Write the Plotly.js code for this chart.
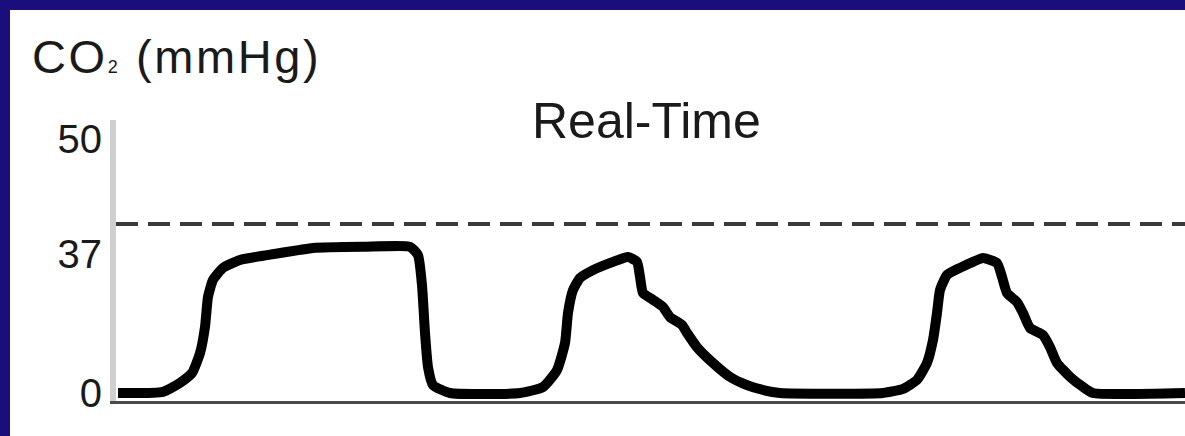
<!DOCTYPE html>
<html>
<head>
<meta charset="utf-8">
<script src="https://cdn.plot.ly/plotly-3.0.1.min.js"></script>
<style>
  html, body { margin: 0; padding: 0; width: 1185px; height: 436px; overflow: hidden; background: #1a0e7c; }
  #chart { position: absolute; left: 10px; top: 10px; width: 1175px; height: 426px; background: #ffffff; }
</style>
</head>
<body>
<div id="chart"></div>
<script>
// Time (s) and CO2 (mmHg)
const timeSec = [
  0.05, 0.50, 0.67, 0.79, 0.87, 0.92, 0.95, 1.00, 1.10, 1.27, 1.54, 1.87, 2.00, 2.50, 2.97, 3.05, 3.09, 3.12, 3.15, 3.20, 3.37,
  4.07, 4.30, 4.44, 4.52, 4.55, 4.60, 4.67, 4.80, 5.00, 5.15, 5.24, 5.27, 5.30, 5.40, 5.50, 5.57, 5.69, 5.74, 5.84, 6.00, 6.17, 6.34, 6.50, 6.67,
  7.70, 7.90, 8.04, 8.14, 8.20, 8.24, 8.27, 8.34, 8.47, 8.60, 8.70, 8.84, 8.89, 8.94, 9.04, 9.10, 9.17, 9.30, 9.37, 9.44, 9.57, 9.70, 9.80, 10.72
];
const co2 = [
  0, 0.3, 2.7, 5.3, 10.6, 17.6, 25.6, 30.1, 33.3, 35.4, 36.7, 38.1, 38.6, 38.9, 38.9, 36.7, 28.7, 16.0, 6.9, 2.1, 0,
  0, 1.6, 6.1, 13.3, 21.3, 27.4, 30.6, 32.7, 34.9, 36.2, 34.9, 30.9, 26.6, 24.8, 22.9, 20.2, 18.1, 16.0, 12.2, 8.0, 4.3, 2.1, 0.8, 0,
  0, 1.1, 3.5, 8.0, 14.1, 21.3, 27.4, 31.4, 33.3, 34.9, 35.9, 34.6, 30.9, 26.6, 24.2, 21.3, 17.3, 15.4, 12.2, 8.0, 4.3, 1.6, 0, 0
];
const thresholdCO2 = 45;
const yTickVals = [0, 37, 67.6];
const yTickText = ["0", "37", "50"];
const chartTitle = "Real-Time";
const yLabel = "<span style=\"letter-spacing:2.6px\">CO<span style=\"font-size:18px\">2</span> (mmHg)</span>";

const FONT = "Liberation Sans, Arial, Helvetica, sans-serif";

const trace = {
  x: timeSec, y: co2, type: "scatter", mode: "lines",
  line: { color: "#000000", width: 10, shape: "spline", smoothing: 0.5 },
  hoverinfo: "skip"
};

const layout = {
  width: 1175, height: 426,
  margin: { l: 106, r: 0, t: 110, b: 35, pad: 0 },
  paper_bgcolor: "#ffffff", plot_bgcolor: "#ffffff",
  showlegend: false,
  xaxis: {
    range: [0.03, 10.72], showgrid: false, zeroline: false, showticklabels: false,
    showline: true, linecolor: "#4a4a4a", linewidth: 3, ticks: ""
  },
  yaxis: {
    range: [-2.13, 72.66], showgrid: false, zeroline: false,
    showline: true, linecolor: "#cfcfcf", linewidth: 6, ticks: "",
    tickmode: "array", tickvals: yTickVals, ticktext: yTickText,
    tickfont: { family: FONT, size: 40, color: "#1a1a1a" }
  },
  shapes: [{
    type: "line", xref: "paper", yref: "y", x0: 0, x1: 1, y0: thresholdCO2, y1: thresholdCO2,
    line: { color: "#3a3a3a", width: 4, dash: "22px,10px" }
  }],
  annotations: [
    { text: yLabel, xref: "paper", yref: "paper", x: -0.0805, y: 1.226, xanchor: "left", yanchor: "middle",
      showarrow: false, font: { family: FONT, size: 47, color: "#1a1a1a" } },
    { text: chartTitle, xref: "paper", yref: "paper", x: 0.4967, y: 0.995, xanchor: "center", yanchor: "middle",
      showarrow: false, font: { family: FONT, size: 50, color: "#1a1a1a" } }
  ]
};

Plotly.newPlot("chart", [trace], layout, { staticPlot: true, displayModeBar: false });
</script>
</body>
</html>
